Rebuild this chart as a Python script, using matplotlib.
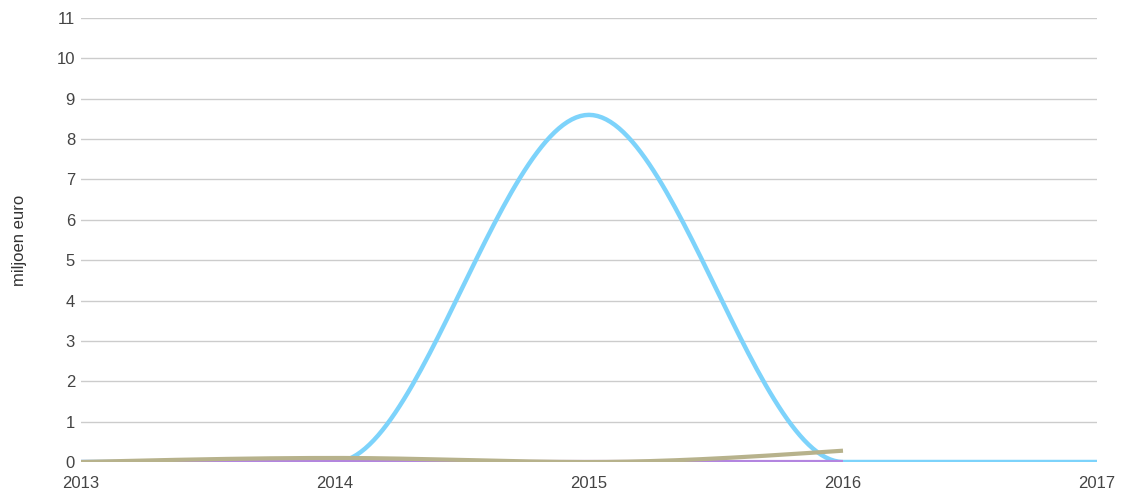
import numpy as np
import matplotlib
matplotlib.use('Agg')
import matplotlib.pyplot as plt

plt.rcParams['font.family'] = ['Liberation Sans', 'DejaVu Sans']

# ---- data ----
years_blue = [2013, 2014, 2015, 2016, 2017]
blue_vals = [0.0, 0.0, 8.6, 0.0, 0.0]

years_khaki = [2013, 2014, 2015, 2016]
khaki_vals = [0.0, 0.1, 0.0, 0.28]

years_purple = [2013, 2014, 2015, 2016]
purple_vals = [0.0, 0.0, 0.0, 0.0]

y_ticks = list(range(0, 12))
x_ticks = [2013, 2014, 2015, 2016, 2017]


def monotone_curve(xs, ys, n=60):
    # monotone cubic (same idea as d3 curveMonotoneX)
    xs = np.asarray(xs, float)
    ys = np.asarray(ys, float)
    h = np.diff(xs)
    d = np.diff(ys) / h
    m = np.zeros_like(ys)
    for i in range(1, len(ys) - 1):
        if d[i - 1] * d[i] <= 0:
            m[i] = 0.0
        else:
            p = (d[i - 1] * h[i] + d[i] * h[i - 1]) / (h[i - 1] + h[i])
            m[i] = (np.sign(d[i - 1]) + np.sign(d[i])) * min(abs(d[i - 1]), abs(d[i]), 0.5 * abs(p))
    if len(ys) > 1:
        m[0] = (3 * d[0] - m[1]) / 2 if len(ys) > 2 else d[0]
        m[-1] = (3 * d[-1] - m[-2]) / 2 if len(ys) > 2 else d[-1]
    outx, outy = [], []
    for i in range(len(xs) - 1):
        t = np.linspace(0, 1, n)
        h00 = 2 * t**3 - 3 * t**2 + 1
        h10 = t**3 - 2 * t**2 + t
        h01 = -2 * t**3 + 3 * t**2
        h11 = t**3 - t**2
        yy = h00 * ys[i] + h10 * h[i] * m[i] + h01 * ys[i + 1] + h11 * h[i] * m[i + 1]
        outx.extend(xs[i] + t * h[i])
        outy.extend(yy)
    return np.array(outx), np.array(outy)


fig = plt.figure(figsize=(11.27, 4.96), dpi=100)
ax = fig.add_axes([81 / 1127, 34 / 496, (1097 - 81) / 1127, (462 - 18) / 496])

bx, by = monotone_curve(years_blue, blue_vals)
ax.plot(bx, by, color='#7dd3fb', linewidth=3.2, solid_capstyle='butt', zorder=3)
px, py = monotone_curve(years_purple, purple_vals)
ax.plot(px, py, color='#b385e0', linewidth=3, solid_capstyle='butt', zorder=4)
kx, ky = monotone_curve(years_khaki, khaki_vals)
ax.plot(kx, ky, color='#b7b28c', linewidth=3, solid_capstyle='butt', zorder=5)

ax.set_xlim(2013, 2017)
ax.set_ylim(0, 11)
ax.set_yticks(y_ticks)
ax.set_xticks(x_ticks)
ax.set_xticklabels([str(x) for x in x_ticks])
ax.grid(True, axis='y', color='#cccccc', linewidth=1)
ax.set_axisbelow(True)
for sp in ax.spines.values():
    sp.set_visible(False)
ax.tick_params(axis='both', length=0, labelsize=12, labelcolor='#444444')
ax.tick_params(axis='y', pad=4.3)
ax.tick_params(axis='x', pad=10)
ax.set_ylabel('miljoen euro', fontsize=12, color='#333333')
ax.yaxis.set_label_coords(-0.053, 0.5)

fig.savefig('out.png', dpi=100)
